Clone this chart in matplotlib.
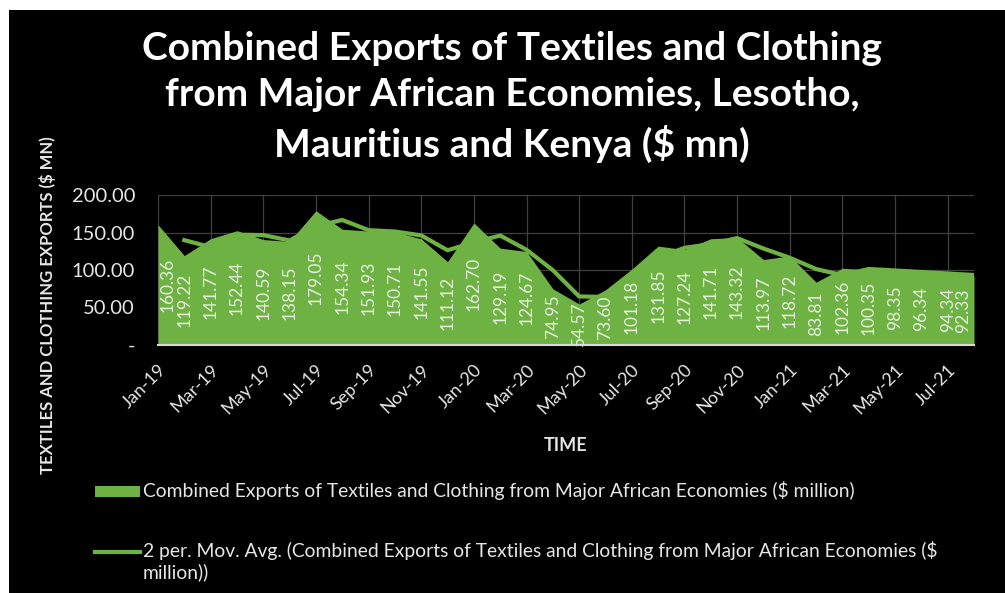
import matplotlib.pyplot as plt
from matplotlib.patches import Rectangle
from matplotlib.lines import Line2D
import pandas as pd

plt.rcParams['font.family'] = ['Lato', 'DejaVu Sans']

# monthly data Jan-19 .. Aug-21
months = pd.date_range('2019-01-01', '2021-08-01', freq='MS')
month_labels = [m.strftime('%b-%y') for m in months]
exports = [160.36, 119.22, 141.77, 152.44, 140.59, 138.15, 179.05, 154.34,
           151.93, 150.71, 141.55, 111.12, 162.70, 129.19, 124.67, 74.95,
           54.57, 73.60, 101.18, 131.85, 127.24, 141.71, 143.32, 113.97,
           118.72, 83.81, 102.36, 100.35, 98.35, 96.34, 94.34, 92.33]
y_ticks = [0, 50, 100, 150, 200]

GREEN = '#6fb244'
TXT = '#e6e6e6'

x = list(range(len(exports)))
mov_avg = pd.Series(exports).rolling(2).mean()

fig = plt.figure(figsize=(10.05, 5.93), dpi=100, facecolor='white')
# black panel (white strip on top and left like the screenshot)
fig.patches.append(Rectangle((9 / 1005, 0), 1, 1 - 10 / 593, transform=fig.transFigure,
                             facecolor='black', edgecolor='none', zorder=-10))

ax = fig.add_axes([158 / 1005, 1 - 345 / 593, 816 / 1005, 150 / 593])
ax.set_facecolor('black')

ax.fill_between(x, exports, 0, color=GREEN, linewidth=0, zorder=2)
ax.plot(x, mov_avg, color=GREEN, linewidth=3, zorder=3)

# data labels, centred in the area; first/last pushed inside the plot like excel
for i, v in zip(x, exports):
    dx = 0
    if i == 0:
        dx = 10
    elif i == len(exports) - 1:
        dx = -11
    ax.annotate(f'{v:.2f}', (i, v / 2), xytext=(dx, 0), textcoords='offset pixels',
                rotation=90, ha='center', va='center', color='#e4f0dc',
                fontsize=12.5, zorder=4)

ax.set_xlim(0, len(exports) - 1)
ax.set_ylim(0, 200)
ax.set_yticks(y_ticks)
ax.set_yticklabels(['-' if t == 0 else f'{t:.2f}' for t in y_ticks])
ax.set_xticks(x[::2])
ax.set_xticklabels(month_labels[::2], rotation=45, ha='right', rotation_mode='anchor')

ax.grid(True, color='#404040', linewidth=0.9, zorder=0)
ax.set_axisbelow(True)
for s in ['top', 'right', 'left']:
    ax.spines[s].set_visible(False)
ax.spines['bottom'].set_color('#d9d9d9')
ax.spines['bottom'].set_linewidth(1.5)
ax.spines['bottom'].set_zorder(5)
ax.tick_params(axis='both', length=0, colors=TXT)
ax.tick_params(axis='x', pad=12, labelsize=13)
ax.tick_params(axis='y', pad=16.5, labelsize=14.5)

ax.set_xlabel('TIME', color=TXT, fontsize=13, fontweight='bold', labelpad=14)

fig.text(48 / 1005, 1 - 305 / 593, 'TEXTILES AND CLOTHING EXPORTS ($ MN)', rotation=90,
         ha='center', va='center', color=TXT, fontsize=12, fontweight='bold')

fig.text(512 / 1005, 1 - 97 / 593,
         'Combined Exports of Textiles and Clothing\nfrom Major African Economies, Lesotho,\nMauritius and Kenya ($ mn)',
         ha='center', va='center', color='white', fontsize=28, fontweight='bold',
         linespacing=1.38)

# legend below the plot
fig.add_artist(Rectangle((95 / 1005, 1 - 497 / 593), 45 / 1005, 11 / 593,
                         transform=fig.transFigure, facecolor=GREEN, edgecolor='none'))
fig.text(143 / 1005, 1 - 491 / 593,
         'Combined Exports of Textiles and Clothing from Major African Economies ($ million)',
         ha='left', va='center', color=TXT, fontsize=13.9)
fig.add_artist(Line2D([95 / 1005, 140 / 1005], [1 - 552 / 593, 1 - 552 / 593],
                      transform=fig.transFigure, color=GREEN, linewidth=3))
fig.text(143 / 1005, 1 - 541 / 593,
         '2 per. Mov. Avg. (Combined Exports of Textiles and Clothing from Major African Economies ($\nmillion))',
         ha='left', va='top', color=TXT, fontsize=13.9, linespacing=1.2)

fig.savefig('out.png', dpi=100, facecolor=fig.get_facecolor())
